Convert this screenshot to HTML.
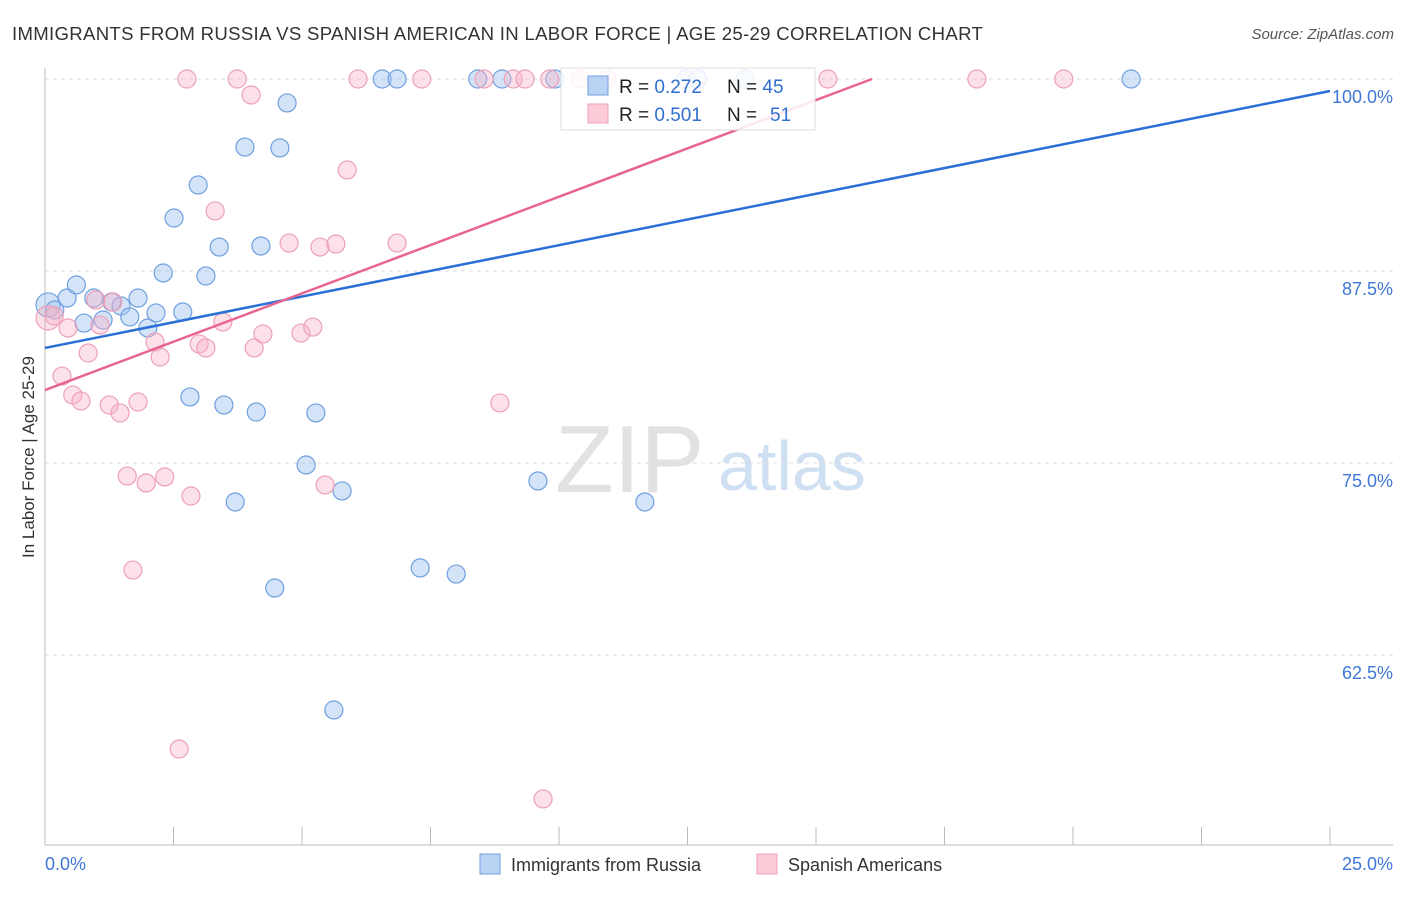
<!DOCTYPE html>
<html><head><meta charset="utf-8"><style>
body{margin:0;background:#fff;font-family:"Liberation Sans",sans-serif;}
svg text{font-family:"Liberation Sans",sans-serif;}
</style></head><body>
<svg id="c" width="1406" height="892">
<text x="12" y="40" font-size="18.6" fill="#333" letter-spacing="0.3">IMMIGRANTS FROM RUSSIA VS SPANISH AMERICAN IN LABOR FORCE | AGE 25-29 CORRELATION CHART</text>
<text x="1394" y="39" font-size="15" fill="#555" text-anchor="end" font-style="italic">Source: ZipAtlas.com</text>
<text x="0" y="0" transform="translate(34,457) rotate(-90)" font-size="17" fill="#333" text-anchor="middle">In Labor Force | Age 25-29</text>
<text x="555" y="492" font-size="96" fill="#e2e2e2" font-family="Liberation Serif">ZIP</text>
<text x="718" y="490" font-size="70" fill="#d0e0f3">atlas</text>
<g id="grid"></g><g id="pts"></g><g id="lines"></g>
<g>
<rect x="561" y="68" width="254" height="62" fill="#fff" fill-opacity="0.85" stroke="#ddd"/>
<rect x="588" y="76" width="20" height="19" fill="#b9d3f4" stroke="#6f9fe0"/>
<rect x="588" y="104" width="20" height="19" fill="#fbcbd8" stroke="#eea0b8"/>
<text x="619" y="93" font-size="19" fill="#222">R = <tspan fill="#2f6fd0">0.272</tspan></text>
<text x="727" y="93" font-size="19" fill="#222">N = <tspan fill="#2f6fd0">45</tspan></text>
<text x="619" y="121" font-size="19" fill="#222">R = <tspan fill="#2f6fd0">0.501</tspan></text>
<text x="727" y="121" font-size="19" fill="#222">N = <tspan fill="#2f6fd0" x="770">51</tspan></text>
</g>
<g>
<rect x="480" y="854" width="20" height="20" fill="#b9d3f4" stroke="#6f9fe0"/>
<text x="511" y="871" font-size="18" fill="#333">Immigrants from Russia</text>
<rect x="757" y="854" width="20" height="20" fill="#fbcbd8" stroke="#eea0b8"/>
<text x="788" y="871" font-size="18" fill="#333">Spanish Americans</text>
</g>
</svg>
<script>
const blueX=[0.06,0.19,0.43,0.61,0.76,0.95,1.13,1.30,1.48,1.65,1.81,2.00,2.16,2.30,2.51,2.68,2.82,2.98,3.13,3.39,3.48,3.70,3.89,4.11,4.20,4.47,4.57,4.71,5.08,5.27,5.62,5.78,6.56,6.85,7.30,8.00,8.42,8.89,9.59,9.92,11.67,12.47,12.70,13.62,21.13];
const blueY=[85.29,84.96,85.74,86.59,84.11,85.74,84.31,85.48,85.22,84.51,85.74,83.79,84.77,87.37,90.95,84.83,79.30,93.10,87.18,89.06,78.78,72.46,95.57,78.32,89.13,66.86,95.51,98.44,74.87,78.26,58.92,73.18,100,100,68.17,67.77,100,100,73.83,100,72.46,100,100,100,100];
const pinkX=[0.06,0.18,0.33,0.45,0.54,0.70,0.84,0.99,1.07,1.25,1.32,1.46,1.60,1.71,1.81,1.97,2.14,2.24,2.33,2.61,2.76,2.84,3.00,3.13,3.31,3.46,3.74,4.01,4.07,4.24,4.75,4.98,5.21,5.35,5.45,5.66,5.88,6.09,6.85,7.33,8.54,8.85,9.11,9.34,9.69,9.82,10.41,10.93,15.23,18.13,19.82];
const pinkY=[84.44,84.57,80.66,83.79,79.43,79.04,82.16,85.61,83.98,78.78,85.48,78.26,74.15,68.03,78.97,73.70,82.88,81.90,74.09,56.38,100,72.85,82.75,82.49,91.41,84.18,100,98.96,82.49,83.40,89.32,83.46,83.85,89.06,73.57,89.26,94.08,100,89.32,100,100,78.91,100,100,53.13,100,100,100,100,100,100];
const blueTrendX=[0,25], blueTrendY=[82.49,99.22];
const pinkTrendX=[0,16.09], pinkTrendY=[79.75,100];
const yTicks=[100,87.5,75,62.5], yTickLabels=["100.0%","87.5%","75.0%","62.5%"];
const xTicks=[2.5,5,7.5,10,12.5,15,17.5,20,22.5,25];
const sx=v=>45+v/25*1285, sy=v=>79+(100-v)/12.5*192;
const NS="http://www.w3.org/2000/svg";
function mk(t,a,p){const e=document.createElementNS(NS,t);for(const k in a)e.setAttribute(k,a[k]);p.appendChild(e);return e;}
const g=document.getElementById('grid');
yTicks.forEach((v,i)=>{
 const l=mk('line',{x1:45,x2:1393,y1:sy(v),y2:sy(v),stroke:'#ddd','stroke-dasharray':'4,4'},g);
 
 
 const t=mk('text',{x:1393,y:sy(v)+24,'font-size':18,fill:'#3f78d8','text-anchor':'end'},g);t.textContent=yTickLabels[i];
 
 
});
const ax=mk('line',{x1:45,x2:45,y1:68,y2:845,stroke:'#bbb'},g);


const bx=mk('line',{x1:45,x2:1393,y1:845,y2:845,stroke:'#bbb'},g);


xTicks.forEach(v=>{const t=mk('line',{x1:sx(v),x2:sx(v),y1:827,y2:845,stroke:'#bbb'},g);
 
 });
const x0=mk('text',{x:45,y:870,'font-size':18,fill:'#3f78d8'},g);x0.textContent='0.0%';


const x1=mk('text',{x:1393,y:870,'font-size':18,fill:'#3f78d8','text-anchor':'end'},g);x1.textContent='25.0%';


const p=document.getElementById('pts');
function pts(X,Y,fill,stroke,name){X.forEach((x,i)=>{const r=(i<1)?12:9;
 const c=mk('circle',{cx:sx(x),cy:sy(Y[i]),r:r,fill:fill,stroke:stroke,'stroke-width':1.2},p);
 
 });}
pts(blueX,blueY,'rgba(160,196,240,0.45)','#6f9fe0','point-russia');
pts(pinkX,pinkY,'rgba(248,180,200,0.4)','#eea0b8','point-spanish');
const L=document.getElementById('lines');
const tb=mk('line',{x1:sx(blueTrendX[0]),y1:sy(blueTrendY[0]),x2:sx(blueTrendX[1]),y2:sy(blueTrendY[1]),stroke:'#2a6fd6','stroke-width':2.5},L);


const tp=mk('line',{x1:sx(pinkTrendX[0]),y1:sy(pinkTrendY[0]),x2:sx(pinkTrendX[1]),y2:sy(pinkTrendY[1]),stroke:'#e8658f','stroke-width':2.5},L);


</script>
</body></html>
